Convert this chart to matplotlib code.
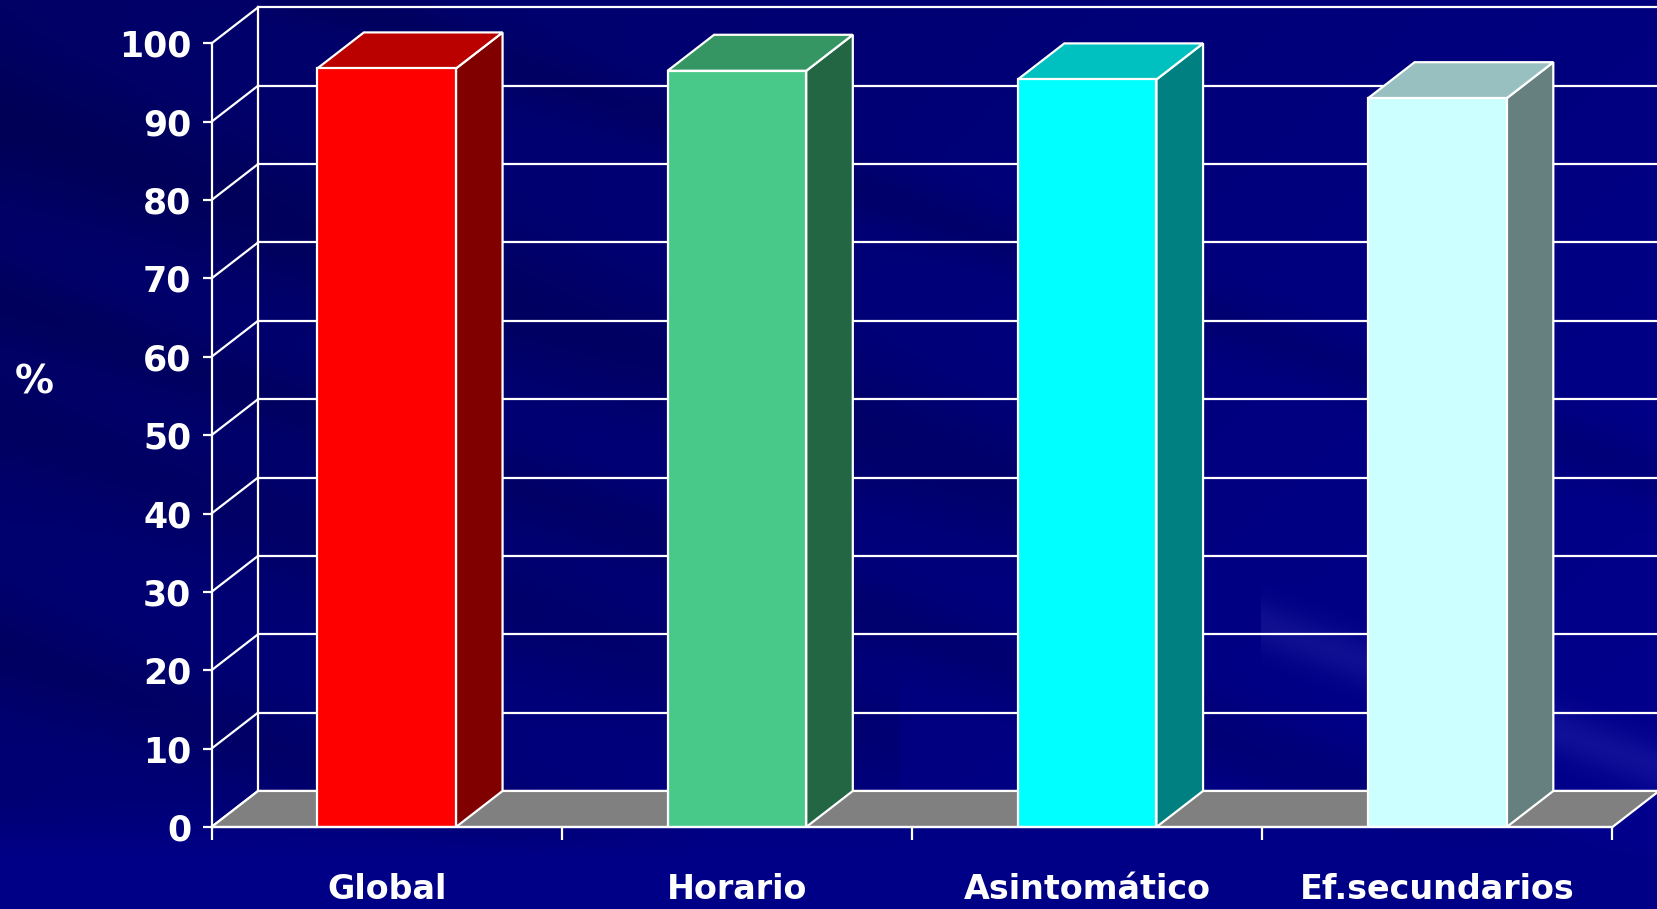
import numpy as np
import matplotlib
matplotlib.use('Agg')
import matplotlib.pyplot as plt
from matplotlib.patches import Polygon

categories = ['Global', 'Horario', 'Asintomático', 'Ef.secundarios']
values = [96.8, 96.5, 95.4, 93.0]
y_ticks = list(range(0, 101, 10))
y_label = '%'

front_colors = ['#FF0000', '#48C98A', '#00FFFF', '#CCFFFF']
top_colors = ['#BB0000', '#359664', '#00C0C0', '#99C0C0']
side_colors = ['#800000', '#226644', '#008080', '#668080']

W, H = 1658, 909
fig = plt.figure(figsize=(W / 100, H / 100), dpi=100)

# ---- background (dark blue with diagonal streaks)
bg = fig.add_axes([0, 0, 1, 1], zorder=0)
yy, xx = np.mgrid[0:H, 0:W].astype(float)
u = yy - 0.36 * xx
blue = 0.40 + 0.10 * (xx / W) + 0.06 * (yy / H)
blue -= 0.07 * np.exp(-((u - 120) / 70) ** 2) * (xx < 1100)
blue -= 0.06 * np.exp(-((u - 300) / 40) ** 2)
blue -= 0.05 * np.exp(-((u - 420) / 60) ** 2) * (xx < 900)
blue -= 0.06 * np.exp(-((u - 650) / 50) ** 2) * (xx < 700)
blue -= 0.05 * np.exp(-((u + 120) / 30) ** 2)
blue += 0.05 * np.exp(-((u - 170) / 25) ** 2) * (xx > 1260)
blue += 0.04 * np.exp(-((u - 260) / 20) ** 2) * (xx > 1500)
blend = np.clip((yy - 800) / 60.0, 0, 1)
blue = blue * (1 - blend) + 0.53 * blend
blue = np.clip(blue, 0, 1)
red = np.clip(0.06 * np.exp(-((u - 170) / 25) ** 2) * (xx > 1260) * (1 - blend), 0, 1)
img = np.dstack([red, red, blue])
bg.imshow(img, extent=[0, W, H, 0], aspect='auto')
bg.set_xlim(0, W)
bg.set_ylim(H, 0)
bg.axis('off')

# ---- main axes
ax = fig.add_axes([211.5 / W, (H - 827) / H, 1401 / W, (827 - 43.4) / H], zorder=1)
ax.patch.set_alpha(0)
n = len(categories)
ax.set_xlim(0, n)
ax.set_ylim(0, 100)

dx, dy = 0.133, 4.6
lw = 1.6
wc = 'white'

# back wall grid lines and left wall diagonals
for t in y_ticks:
    ax.plot([dx, n + dx + 0.2], [t + dy, t + dy], color=wc, lw=lw, clip_on=False, zorder=1)
    ax.plot([0, dx], [t, t + dy], color=wc, lw=lw, clip_on=False, zorder=1)
ax.plot([dx, dx], [dy, 100 + dy], color=wc, lw=lw, clip_on=False, zorder=1)

# floor
floor = Polygon([[0, 0], [n, 0], [n + dx, dy], [dx, dy]], closed=True,
                facecolor='#808080', edgecolor=wc, lw=lw, clip_on=False, zorder=2)
ax.add_patch(floor)

# bars
hw = 0.198
for i, v in enumerate(values):
    c = i + 0.5
    x0, x1 = c - hw, c + hw
    side = Polygon([[x1, 0], [x1 + dx, dy], [x1 + dx, v + dy], [x1, v]], closed=True,
                   facecolor=side_colors[i], edgecolor=wc, lw=lw, clip_on=False, zorder=3)
    top = Polygon([[x0, v], [x1, v], [x1 + dx, v + dy], [x0 + dx, v + dy]], closed=True,
                  facecolor=top_colors[i], edgecolor=wc, lw=lw, clip_on=False, zorder=3)
    ax.add_patch(side)
    ax.add_patch(top)
    ax.bar(c, v, width=2 * hw, color=front_colors[i], edgecolor=wc, lw=lw, zorder=4)

# axes styling
for s in ['top', 'right']:
    ax.spines[s].set_visible(False)
for s in ['left', 'bottom']:
    ax.spines[s].set_color(wc)
    ax.spines[s].set_linewidth(lw)
    ax.spines[s].set_zorder(5)

font = dict(family='DejaVu Sans', weight='bold', size=25)
ax.set_yticks(y_ticks)
ax.set_yticklabels([str(t) for t in y_ticks], color=wc, fontdict=font)
ax.tick_params(axis='y', colors=wc, length=6.5, width=lw, pad=8)

ax.set_xticks(np.arange(n + 1))
ax.set_xticklabels([])
ax.tick_params(axis='x', which='major', colors=wc, length=9.5, width=lw)
ax.set_xticks(np.arange(n) + 0.5, minor=True)
ax.set_xticklabels(categories, minor=True, color=wc, fontdict=dict(font, size=24))
ax.tick_params(axis='x', which='minor', length=0, pad=33)

fig.text(34 / W, 1 - 383 / H, y_label, color=wc, ha='center', va='center',
         **dict(font, size=28))

fig.savefig('out.png', dpi=100)
